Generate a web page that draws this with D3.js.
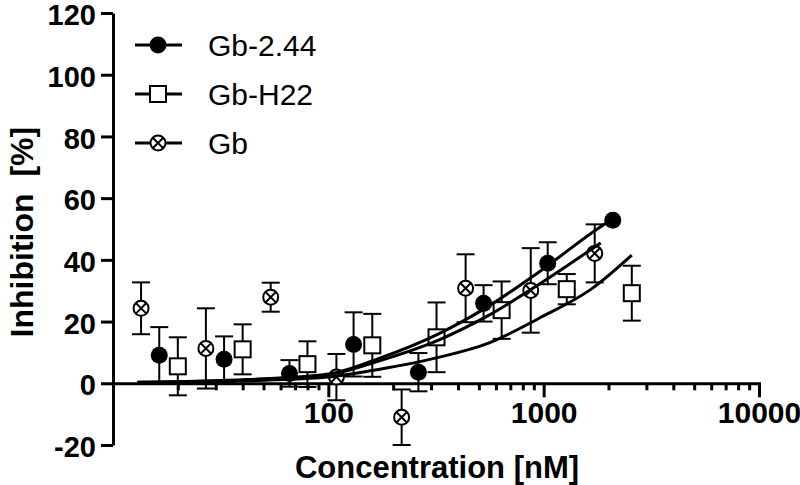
<!DOCTYPE html>
<html>
<head>
<meta charset="utf-8">
<script src="https://cdn.jsdelivr.net/npm/d3@7"></script>
<style>
  body { margin: 0; background: #fff; }
  svg { display: block; font-family: "Liberation Sans", Arial, sans-serif; }
</style>
</head>
<body>
<div id="chart"></div>
<script>
// measured points: concentration [nM], inhibition [%], SEM
const seriesNames = ['Gb-2.44', 'Gb-H22', 'Gb'];

const gb244Conc = [16.4, 32.8, 66, 131, 262, 526, 1044, 2094];
const gb244Val  = [9.1, 7.8, 3.2, 12.6, 3.6, 25.9, 38.9, 52.8];
const gb244Err  = [9.1, 7.4, 4.3, 10.4, 6.2, 5.9, 6.8, 0];

const h22Conc = [20, 40, 80, 160, 318, 638, 1280, 2566];
const h22Val  = [5.5, 11, 6.2, 12.3, 14.9, 23.7, 30.5, 29.2];
const h22Err  = [9.4, 8.1, 7.4, 10.2, 11.3, 9.3, 4.9, 8.9];

const gbConc = [13.5, 27, 54, 109, 219, 434, 871, 1726];
const gbVal  = [24.3, 11.3, 27.9, 2, -11, 30.8, 30.1, 42.1];
const gbErr  = [8.4, 13, 4.7, 7.5, 9, 11, 13.7, 9.4];

// fitted curves
const fit244Conc = [13, 42, 100, 171, 325, 555, 948, 1862, 1960];
const fit244Val  = [0.3, 1.2, 3, 8, 16, 25, 36, 51, 52];
const fitGbConc  = [13, 42, 100, 171, 325, 555, 948, 1840];
const fitGbVal   = [0.3, 1.1, 2.8, 7.2, 14, 22, 32, 45.5];
const fitH22Conc = [13, 42, 100, 171, 325, 555, 948, 1700, 2566];
const fitH22Val  = [0.2, 0.8, 2, 4.5, 8.4, 13, 21, 31, 41.5];

const yTicks = [-20, 0, 20, 40, 60, 80, 100, 120];
const xMajor = [100, 1000, 10000];

const width = 800, height = 485;
const margin = {top: 13, right: 41, bottom: 40, left: 113};

const svg = d3.select('#chart').append('svg')
  .attr('width', width)
  .attr('height', height);

const x = d3.scaleLog()
  .domain([10, 10000])
  .range([margin.left, width - margin.right]);

const y = d3.scaleLinear()
  .domain([-20, 120])
  .range([height - margin.bottom, margin.top]);

// x ticks: every integer step of each decade
let xTicks = [];
[10, 100, 1000].forEach(d => {
  for (let k = 2; k <= 10; k++) xTicks.push(d * k);
});

const xAxis = svg.append('g')
  .attr('transform', `translate(0,${y(0)})`)
  .call(d3.axisBottom(x)
    .tickValues(xTicks)
    .tickSizeOuter(0)
    .tickSize(7)
    .tickFormat(d => xMajor.includes(d) ? d : ''));

xAxis.select('.domain').attr('stroke-width', 3);
xAxis.selectAll('.tick line')
  .attr('stroke-width', 3)
  .attr('y2', d => xMajor.includes(d) ? 14 : 7);
xAxis.selectAll('.tick text')
  .attr('y', 18)
  .attr('fill', '#000')
  .style('font-size', '30px')
  .style('font-weight', 'bold');

const yAxis = svg.append('g')
  .attr('transform', `translate(${margin.left},0)`)
  .call(d3.axisLeft(y)
    .tickValues(yTicks)
    .tickSize(12)
    .tickSizeOuter(0)
    .tickFormat(d => String(d)));

yAxis.select('.domain').attr('stroke-width', 3);
yAxis.selectAll('.tick line').attr('stroke-width', 3);
yAxis.selectAll('.tick text')
  .attr('x', -17)
  .attr('dy', '0.4em')
  .attr('fill', '#000')
  .style('font-size', '29px')
  .style('font-weight', 'bold');

// axis titles
svg.append('text')
  .attr('x', 437)
  .attr('y', 478)
  .attr('text-anchor', 'middle')
  .style('font-size', '31px')
  .style('font-weight', 'bold')
  .text('Concentration [nM]');

svg.append('text')
  .attr('transform', `translate(33,${y(49)}) rotate(-90)`)
  .attr('text-anchor', 'middle')
  .style('font-size', '32px')
  .style('font-weight', 'bold')
  .style('word-spacing', '8px')
  .text('Inhibition [%]');

const zip = (c, v, e) => c.map((d, i) => ({c: d, v: v[i], e: e[i]}));
const data = [
  {name: seriesNames[0], shape: 'dot', pts: zip(gb244Conc, gb244Val, gb244Err),
   fit: fit244Conc.map((d, i) => [d, fit244Val[i]])},
  {name: seriesNames[1], shape: 'square', pts: zip(h22Conc, h22Val, h22Err),
   fit: fitH22Conc.map((d, i) => [d, fitH22Val[i]])},
  {name: seriesNames[2], shape: 'xcircle', pts: zip(gbConc, gbVal, gbErr),
   fit: fitGbConc.map((d, i) => [d, fitGbVal[i]])}
];

const plot = svg.append('g');
const capW = 9;

// error bars
data.forEach(s => {
  const g = plot.append('g')
    .attr('stroke', '#000')
    .attr('stroke-width', 2);
  s.pts.filter(p => p.e > 0).forEach(p => {
    const cx = x(p.c), y1 = y(p.v - p.e), y2 = y(p.v + p.e);
    g.append('line').attr('x1', cx).attr('x2', cx).attr('y1', y1).attr('y2', y2);
    g.append('line').attr('x1', cx - capW).attr('x2', cx + capW).attr('y1', y1).attr('y2', y1);
    g.append('line').attr('x1', cx - capW).attr('x2', cx + capW).attr('y1', y2).attr('y2', y2);
  });
});

function drawMarker(g, shape, cx, cy) {
  if (shape === 'dot') {
    g.append('circle').attr('cx', cx).attr('cy', cy).attr('r', 8.5).attr('fill', '#000');
  } else if (shape === 'square') {
    g.append('rect').attr('x', cx - 8).attr('y', cy - 8).attr('width', 16).attr('height', 16)
      .attr('fill', '#fff').attr('stroke', '#000').attr('stroke-width', 2);
  } else {
    const r = 7.5, k = r * Math.SQRT1_2;
    g.append('circle').attr('cx', cx).attr('cy', cy).attr('r', r)
      .attr('fill', '#fff').attr('stroke', '#000').attr('stroke-width', 2);
    g.append('path')
      .attr('d', `M${cx - k},${cy - k}L${cx + k},${cy + k}M${cx - k},${cy + k}L${cx + k},${cy - k}`)
      .attr('stroke', '#000').attr('stroke-width', 2);
  }
}

// markers
data.forEach(s => {
  const g = plot.append('g');
  s.pts.forEach(p => drawMarker(g, s.shape, x(p.c), y(p.v)));
});

// fitted curves
const line = d3.line()
  .x(d => x(d[0]))
  .y(d => y(d[1]))
  .curve(d3.curveMonotoneX);

data.forEach(s => {
  plot.append('path')
    .datum(s.fit)
    .attr('d', line)
    .attr('fill', 'none')
    .attr('stroke', '#000')
    .attr('stroke-width', 3);
});

// legend
const legend = svg.append('g');
data.forEach((s, i) => {
  const ly = 45 + i * 49;
  legend.append('line')
    .attr('x1', 135).attr('x2', 182)
    .attr('y1', ly).attr('y2', ly)
    .attr('stroke', '#000').attr('stroke-width', 3);
  drawMarker(legend, s.shape, 158, ly);
  legend.append('text')
    .attr('x', 208)
    .attr('y', ly + 11)
    .style('font-size', '30px')
    .text(s.name);
});
</script>
</body>
</html>
